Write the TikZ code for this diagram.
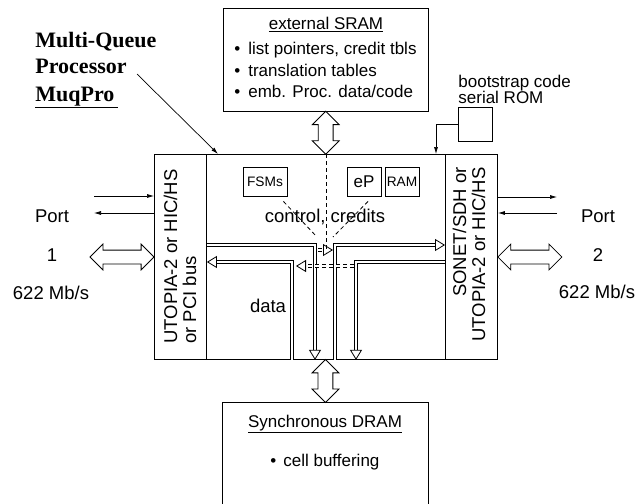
\documentclass[tikz,border=0pt]{standalone}
\usepackage{fontspec}
\setmainfont{Liberation Sans}
\newfontfamily\titlefont{Liberation Serif}
\usetikzlibrary{arrows.meta,positioning,shapes.arrows,calc}

\begin{document}
\begin{tikzpicture}[
  x=1pt, y=-1pt,
  line width=0.8pt,
  box/.style={draw, line width=0.9pt, inner sep=0pt},
  big/.style={font=\fontsize{18.5}{19}\selectfont, inner sep=0pt},
  small/.style={font=\fontsize{17}{19}\selectfont, inner sep=0pt},
  tiny/.style={font=\fontsize{13.7}{15}\selectfont, inner sep=0pt},
  hollow/.style={double arrow, draw, fill=white, inner sep=7pt, double arrow head extend=6pt, double arrow tip angle=90},
  datapath/.style={double, double distance=2.5pt, -{Triangle[open, width=12pt, length=10pt]}},
  ctrl/.style={dash pattern=on 4pt off 3pt},
  sig/.style={-{Latex[length=7pt, width=4pt]}, line width=0.7pt}
]
\clip (0,0) rectangle (639,503);

% chip with its two line interfaces
\node[box, anchor=north west, minimum width=343pt, minimum height=205pt] (muq) at (154,154) {};
\node[box, anchor=north west, minimum width=52pt, minimum height=205pt] (lif) at (154,154) {};
\node[box, anchor=north west, minimum width=52pt, minimum height=205pt] (rif) at (445,154) {};
\node[big, rotate=90, align=left] (ltext) at (180,256.5) {UTOPIA-2 or HIC/HS\\or PCI bus};
\node[big, rotate=90, align=right] (rtext) at (469,254.5) {SONET/SDH or\\UTOPIA-2 or HIC/HS};

% title
\node[anchor=base west, inner sep=0pt, font=\titlefont\bfseries\fontsize{22}{24}\selectfont] (title1) at (35,48) {Multi-Queue};
\node[anchor=base west, inner sep=0pt, font=\titlefont\bfseries\fontsize{22}{24}\selectfont] (title2) at (35,73) {Processor};
\node[anchor=base west, inner sep=0pt, font=\titlefont\bfseries\fontsize{22}{24}\selectfont] (title3) at (35,101) {\underline{MuqPro\hspace{4pt}}};
\coordinate (ptr) at (137,74);
\draw[sig] (ptr) -- (muq.north -| 218,0);

% external SRAM
\node[box, minimum width=205pt, minimum height=103pt] (sram) at (325.5,59.5) {};
\node[small, anchor=base] (sramt) at (326,30) {\underline{external SRAM}};
\node[small, anchor=base west] (sram1) at (234,55) {\textbullet\hspace{8pt}list pointers, credit tbls};
\node[small, anchor=base west] (sram2) at (234,76) {\textbullet\hspace{8pt}translation tables};
\node[small, anchor=base west] (sram3) at (234,97) {\textbullet\hspace{8pt}emb. Proc. data/code};
\node[hollow, shape border rotate=90, minimum height=43pt] (sramlink) at ($(sram.south)!.5!(muq.north)$) {};

% synchronous DRAM
\node[box, anchor=north, minimum width=206pt, minimum height=120pt] (sdram) at (325,402) {};
\node[small, anchor=base] (sdramt) at (325,427) {\underline{Synchronous DRAM}};
\node[small, anchor=base west] (sdram1) at (270,466) {\textbullet\hspace{7pt}cell buffering};
\node[hollow, shape border rotate=90, minimum height=43pt] (sdramlink) at ($(muq.south)!.5!(sdram.north)$) {};

% bootstrap ROM
\node[box, minimum width=34pt, minimum height=34pt] (rom) at (475,124) {};
\node[small, anchor=base west] (romt1) at (458,87) {bootstrap code};
\node[small, anchor=base west] (romt2) at (458,103) {serial ROM};
\draw[sig] (rom.west) -| (muq.north -| 436,0);

% ports
\node[big, anchor=base] (port1) at (52,222) {Port};
\node[big, anchor=base] (num1) at (52,261) {1};
\node[big, anchor=base] (rate1) at (51,299) {622 Mb/s};
\node[big, anchor=base] (port2) at (598,222) {Port};
\node[big, anchor=base] (num2) at (598,261) {2};
\node[big, anchor=base] (rate2) at (597,298) {622 Mb/s};
\coordinate (p1in) at (94,196);
\coordinate (p1out) at (94,213);
\coordinate (p2out) at (557,197);
\coordinate (p2in) at (557,213);
\draw[sig] (p1in) -- (lif.west |- p1in);
\draw[sig] (lif.west |- p1out) -- (p1out);
\draw[sig] (rif.east |- p2out) -- (p2out);
\draw[sig] (p2in) -- (rif.east |- p2in);
\node[hollow, inner sep=6.5pt, minimum height=64pt] (p1link) at ($(lif.west |- 0,257)+(-32,0)$) {};
\node[hollow, inner sep=6.5pt, minimum height=64pt] (p2link) at ($(rif.east |- 0,257)+(32,0)$) {};

% control blocks
\node[box, tiny, minimum width=44pt, minimum height=29pt] (fsm) at (265,181.5) {FSMs};
\node[box, small, minimum width=34pt, minimum height=29pt] (ep) at (364,181.5) {eP};
\node[box, tiny, minimum width=34pt, minimum height=29pt] (ram) at (402,181.5) {RAM};
\node[big, anchor=base] (ctrltext) at (325,222) {control, credits};
\draw[ctrl] (muq.north) -- ++(0,98);
\draw[ctrl] ($(fsm.south east)+(-4,5)$) -- (317,237);
\draw[ctrl] ($(ep.south)+(4,5)$) -- (333,237);

% data paths
\node[big, anchor=base] (datatext) at (268,312) {data};
\draw[datapath] (lif.east |- 0,245) -| (muq.south -| 315,0);
\draw[datapath] (rif.west |- 0,262) -| (muq.south -| 356,0);
\draw[datapath] (muq.south -| 335,0) |- (rif.west |- 0,245);
\draw[datapath] (muq.south -| 292,0) |- (lif.east |- 0,262);
\draw[datapath, ctrl] (318,250) -- (333,250);
\draw[datapath, ctrl] (354,266) -- (296,266);
\end{tikzpicture}
\end{document}
